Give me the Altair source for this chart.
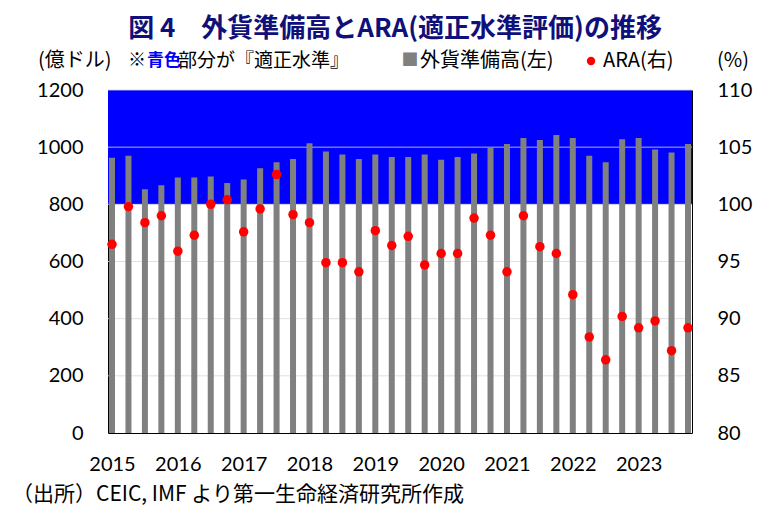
import altair as alt
import pandas as pd

quarters = ["2015Q1","2015Q2","2015Q3","2015Q4","2016Q1","2016Q2","2016Q3","2016Q4",
            "2017Q1","2017Q2","2017Q3","2017Q4","2018Q1","2018Q2","2018Q3","2018Q4",
            "2019Q1","2019Q2","2019Q3","2019Q4","2020Q1","2020Q2","2020Q3","2020Q4",
            "2021Q1","2021Q2","2021Q3","2021Q4","2022Q1","2022Q2","2022Q3","2022Q4",
            "2023Q1","2023Q2","2023Q3","2023Q4"]
reserves = [963, 970, 853, 867, 894, 894, 897, 875, 887, 926, 947, 959,
            1014, 985, 974, 959, 974, 966, 966, 974, 956, 966, 978, 999,
            1011, 1032, 1025, 1043, 1032, 970, 947, 1028, 1032, 992, 981, 1011]
ara = [96.5, 99.8, 98.4, 99.0, 95.9, 97.3, 100.0, 100.4, 97.6, 99.6, 102.6, 99.1,
       98.4, 94.9, 94.9, 94.1, 97.7, 96.4, 97.2, 94.7, 95.7, 95.7, 98.8, 97.3,
       94.1, 99.0, 96.3, 95.7, 92.1, 88.4, 86.4, 90.2, 89.2, 89.8, 87.2, 89.2]
year_ticks = [q for q in quarters if q.endswith("Q1")]
left_ticks = [0, 200, 400, 600, 800, 1000, 1200]
right_ticks = [80, 85, 90, 95, 100, 105, 110]
adequate_band = [{"lo": 800, "hi": 1200}]
grid_values = [200, 400, 600, 800, 1000, 1200]

W, H = 584, 343
JP = "Noto Sans CJK JP"
NUM = "Lato"

df = pd.DataFrame({"q": quarters, "reserve": reserves, "ara": ara})

xenc = alt.X("q:N", sort=quarters,
             scale=alt.Scale(type="point", padding=0.243),
             axis=alt.Axis(title=None, values=year_ticks, labelExpr="slice(datum.label, 0, 4)",
                           labelAngle=0, labelFont=NUM, labelFontSize=20, labelColor="black",
                           labelPadding=21, ticks=False, tickSize=0, domainColor="black",
                           grid=False, labelOverlap=False))

yl_scale = alt.Scale(domain=[0, 1200], nice=False, zero=True)
yl_axis = alt.Axis(title=None, values=left_ticks, format="d", labelFont=NUM, labelFontSize=20,
                   labelColor="black", labelPadding=25, ticks=False, tickSize=0,
                   domainColor="black", grid=False, orient="left")
yr_scale = alt.Scale(domain=[80, 110], nice=False, zero=False)
yr_axis = alt.Axis(title=None, values=right_ticks, format="d", labelFont=NUM, labelFontSize=20,
                   labelColor="black", labelPadding=25, ticks=False, tickSize=0,
                   domainColor="black", grid=False, orient="right", labelAlign="left")

band = alt.Chart(alt.Data(values=adequate_band)).mark_rect(color="#0000FF").encode(
    x=alt.value(0), x2=alt.value(W),
    y=alt.Y("lo:Q", scale=yl_scale, axis=yl_axis), y2="hi:Q")

grid = alt.Chart(pd.DataFrame({"g": grid_values})).mark_rule(
    color="#d9d9d9", strokeWidth=1, opacity=0.8).encode(
    x=alt.value(0), x2=alt.value(W),
    y=alt.Y("g:Q", scale=yl_scale, axis=yl_axis))

bars = alt.Chart(df).mark_bar(color="#808080", size=6).encode(
    x=xenc, y=alt.Y("reserve:Q", scale=yl_scale, axis=yl_axis))

left = alt.layer(band, grid, bars)

dots = alt.Chart(df).mark_circle(color="#FF0000", size=90, opacity=1).encode(
    x=xenc, y=alt.Y("ara:Q", scale=yr_scale, axis=yr_axis))


def txt(s, x, y, size=18, color="black", weight="normal", align="left", font=JP):
    return alt.Chart(alt.Data(values=[{"t": s}])).mark_text(
        text=s, font=font, fontSize=size, color=color, fontWeight=weight,
        align=align, baseline="middle").encode(x=alt.value(x), y=alt.value(y))


texts = [
    txt("図 4　外貨準備高とARA(適正水準評価)の推移", 287, -61, size=26,
        color="#10107a", weight="bold", align="center"),
    txt("(億ドル)", -70, -29, size=20),
    txt("※", 20, -29, size=18),
    txt("青色", 39, -29, size=17, color="#0000FF", weight="bold"),
    txt("部分が『適正水準』", 70, -29, size=19),
    txt("■", 302, -29, size=17, color="#808080", align="center"),
    txt("外貨準備高(左)", 312, -29, size=20),
    txt("ARA(右)", 495, -29, size=20),
    txt("(%)", 609, -29, size=20),
    txt("（出所）CEIC, IMF より第一生命経済研究所作成", -96, 405, size=21),
]

legend_dot = alt.Chart(alt.Data(values=[{"t": 1}])).mark_circle(
    color="#FF0000", size=70, opacity=1).encode(x=alt.value(483), y=alt.value(-29))

chart = alt.layer(left, dots, legend_dot, *texts).resolve_scale(y="independent").properties(
    width=W, height=H,
    autosize=alt.AutoSizeParams(type="none"),
    padding={"left": 100, "top": 82, "right": 66, "bottom": 76},
).configure_view(stroke=None)

chart.save("out.html", embed_options={"renderer": "svg", "actions": False})
